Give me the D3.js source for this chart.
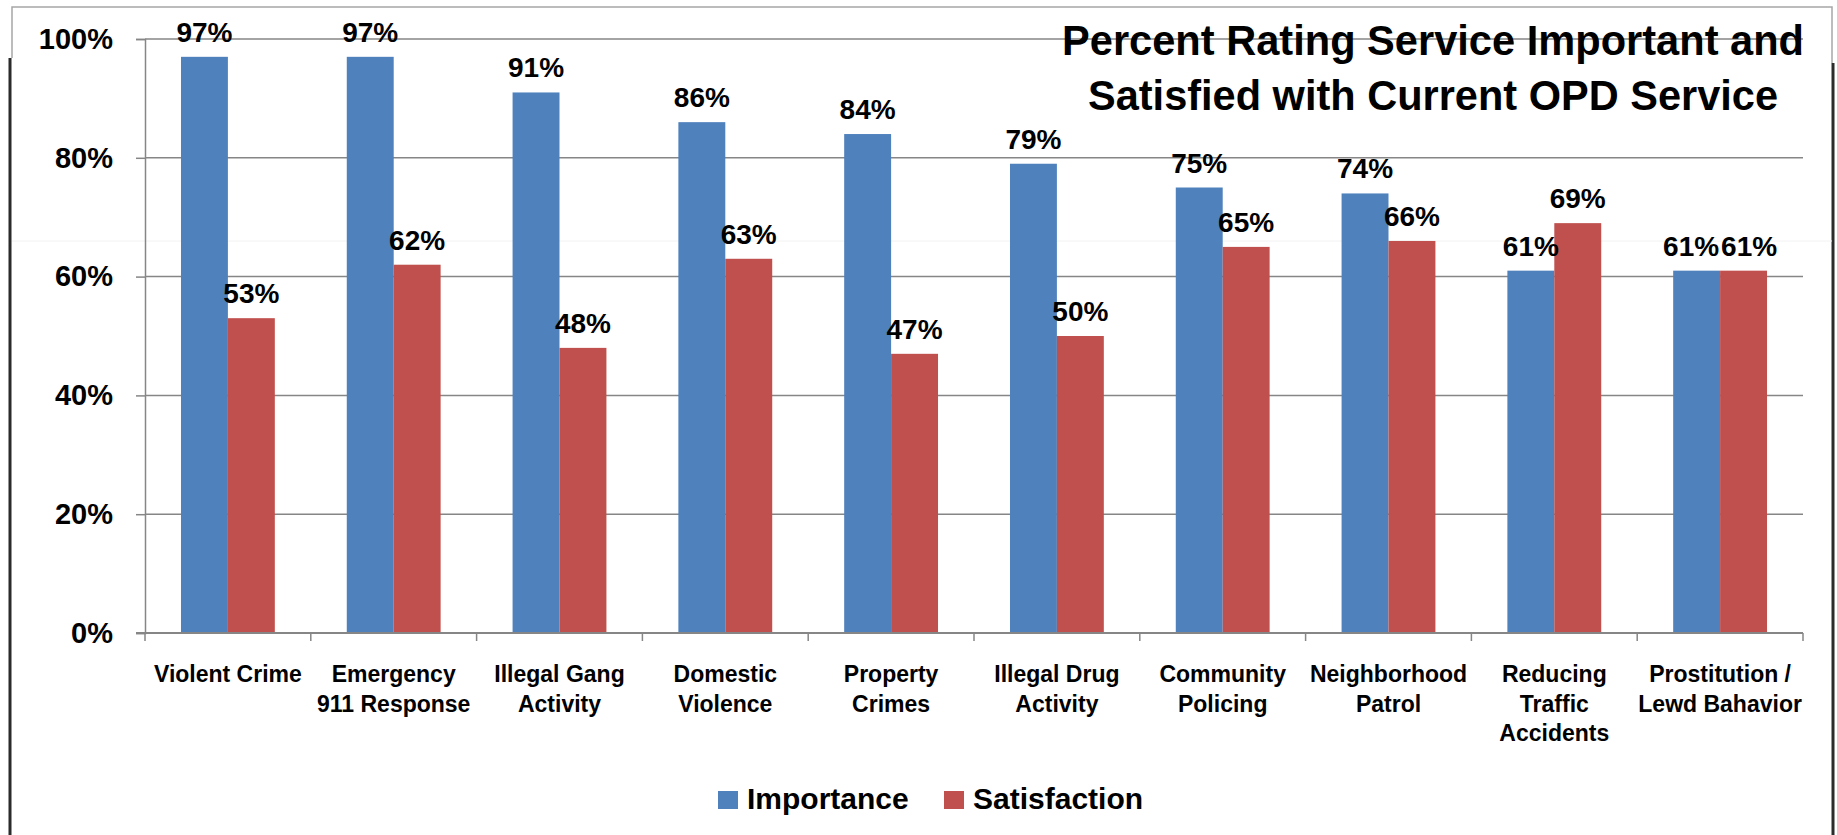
<!DOCTYPE html>
<html>
<head>
  <meta charset="utf-8">
  <title>Percent Rating Service Important and Satisfied</title>
  <script src="https://d3js.org/d3.v7.min.js"></script>
  <style>
    body { margin: 0; overflow: hidden; background: #fff; }
    text { font-family: "Liberation Sans", Arial, sans-serif; font-weight: bold; fill: #000; }
  </style>
</head>
<body>
<svg width="1837" height="835"></svg>
<script>
// --- data ---
const categories = ["Violent Crime", "Emergency\n911 Response", "Illegal Gang\nActivity", "Domestic\nViolence",
  "Property\nCrimes", "Illegal Drug\nActivity", "Community\nPolicing", "Neighborhood\nPatrol",
  "Reducing\nTraffic\nAccidents", "Prostitution /\nLewd Bahavior"];
const series = ["Importance", "Satisfaction"];
const importance = [97, 97, 91, 86, 84, 79, 75, 74, 61, 61];
const satisfaction = [53, 62, 48, 63, 47, 50, 65, 66, 69, 61];
const yTicks = [0, 20, 40, 60, 80, 100];
const titleLines = ["Percent Rating Service Important and", "Satisfied with Current OPD Service"];

const colors = { Importance: "#4F81BD", Satisfaction: "#C0504D" };
const gray = "#868686";

const svg = d3.select("svg");
const plotL = 145, plotR = 1803, plotT = 39, plotB = 633;

// frame of the pasted picture
svg.append("path").attr("d", "M12,58 L12,7 L1832,7 L1832,63")
  .attr("fill", "none").attr("stroke", "#a6a6a6").attr("stroke-width", 1.5);
svg.append("line").attr("x1", 10).attr("x2", 10).attr("y1", 58).attr("y2", 835)
  .attr("stroke", "#2b2b2b").attr("stroke-width", 3);
svg.append("line").attr("x1", 1833).attr("x2", 1833).attr("y1", 63).attr("y2", 835)
  .attr("stroke", "#2b2b2b").attr("stroke-width", 3);
svg.append("line").attr("x1", 12).attr("x2", 1832).attr("y1", 241).attr("y2", 241)
  .attr("stroke", "#f2f2f2").attr("stroke-width", 1);

// scales
const x0 = d3.scaleBand().domain(categories).range([plotL, plotR])
  .paddingInner(0.434).paddingOuter(0.217);
const x1 = d3.scaleBand().domain(series).range([0, x0.bandwidth()]);
const y = d3.scaleLinear().domain([0, 100]).range([plotB, plotT]);

// gridlines
svg.append("g").selectAll("line").data(yTicks.filter(d => d > 0)).join("line")
  .attr("x1", plotL).attr("x2", plotR)
  .attr("y1", d => y(d)).attr("y2", d => y(d))
  .attr("stroke", gray).attr("stroke-width", 1.5);

// y axis
const yAxis = svg.append("g").attr("transform", `translate(${plotL},0)`)
  .call(d3.axisLeft(y).tickValues(yTicks).tickFormat(d => d + "%").tickSize(9).tickPadding(23));
yAxis.selectAll("path, line").attr("stroke", gray).attr("stroke-width", 1.5);
yAxis.attr("font-family", null).attr("font-size", null);
yAxis.selectAll("text").style("font-size", "29px").attr("fill", "#000");

// bars
const rows = categories.map((c, i) => ({ cat: c, vals: [importance[i], satisfaction[i]] }));
const groups = svg.append("g").selectAll("g").data(rows).join("g")
  .attr("transform", d => `translate(${x0(d.cat)},0)`);
groups.selectAll("rect").data(d => d.vals.map((v, j) => ({ s: series[j], v })))
  .join("rect")
  .attr("x", d => x1(d.s)).attr("width", x1.bandwidth())
  .attr("y", d => y(d.v)).attr("height", d => y(0) - y(d.v))
  .attr("fill", d => colors[d.s]);
groups.selectAll("text").data(d => d.vals.map((v, j) => ({ s: series[j], v })))
  .join("text")
  .attr("x", d => x1(d.s) + x1.bandwidth() / 2)
  .attr("y", d => y(d.v) - 15)
  .attr("text-anchor", "middle").style("font-size", "28px")
  .text(d => d.v + "%");

// push apart the two labels of a pair when they sit at the same height and collide
groups.each(function () {
  const t = d3.select(this).selectAll("text").nodes();
  const a = t[0], b = t[1];
  if (Math.abs(+a.getAttribute("y") - +b.getAttribute("y")) > 26) return;
  const need = (a.getComputedTextLength() + b.getComputedTextLength()) / 2 + 2;
  const have = +b.getAttribute("x") - +a.getAttribute("x");
  if (have < need) {
    const s = (need - have) / 2;
    a.setAttribute("x", +a.getAttribute("x") - s);
    b.setAttribute("x", +b.getAttribute("x") + s);
  }
});

// x axis line and boundary ticks
svg.append("line").attr("x1", plotL - 9).attr("x2", plotR).attr("y1", plotB).attr("y2", plotB)
  .attr("stroke", gray).attr("stroke-width", 2);
svg.append("g").selectAll("line").data(d3.range(categories.length + 1)).join("line")
  .attr("x1", i => plotL + i * x0.step()).attr("x2", i => plotL + i * x0.step())
  .attr("y1", plotB).attr("y2", plotB + 8)
  .attr("stroke", gray).attr("stroke-width", 1.5);

// category labels
svg.append("g").selectAll("text").data(categories).join("text")
  .attr("text-anchor", "middle").style("font-size", "23px")
  .attr("transform", d => `translate(${x0(d) + x0.bandwidth() / 2},682)`)
  .selectAll("tspan").data(d => d.split("\n")).join("tspan")
  .attr("x", 0).attr("y", (d, i) => i * 29.5).text(d => d);

// title
svg.append("g").selectAll("text").data(titleLines).join("text")
  .attr("x", 1433).attr("y", (d, i) => 55 + i * 55)
  .attr("text-anchor", "middle").style("font-size", "42px")
  .attr("textLength", (d, i) => i === 0 ? 742 : 690).attr("lengthAdjust", "spacingAndGlyphs")
  .text(d => d);

// legend
const legendX = [718, 944];
const legend = svg.append("g").selectAll("g").data(series).join("g")
  .attr("transform", (d, i) => `translate(${legendX[i]},791)`);
legend.append("rect").attr("width", 20).attr("height", 18).attr("fill", d => colors[d]);
legend.append("text").attr("x", 29).attr("y", 18).style("font-size", "30px").text(d => d);
</script>
</body>
</html>
